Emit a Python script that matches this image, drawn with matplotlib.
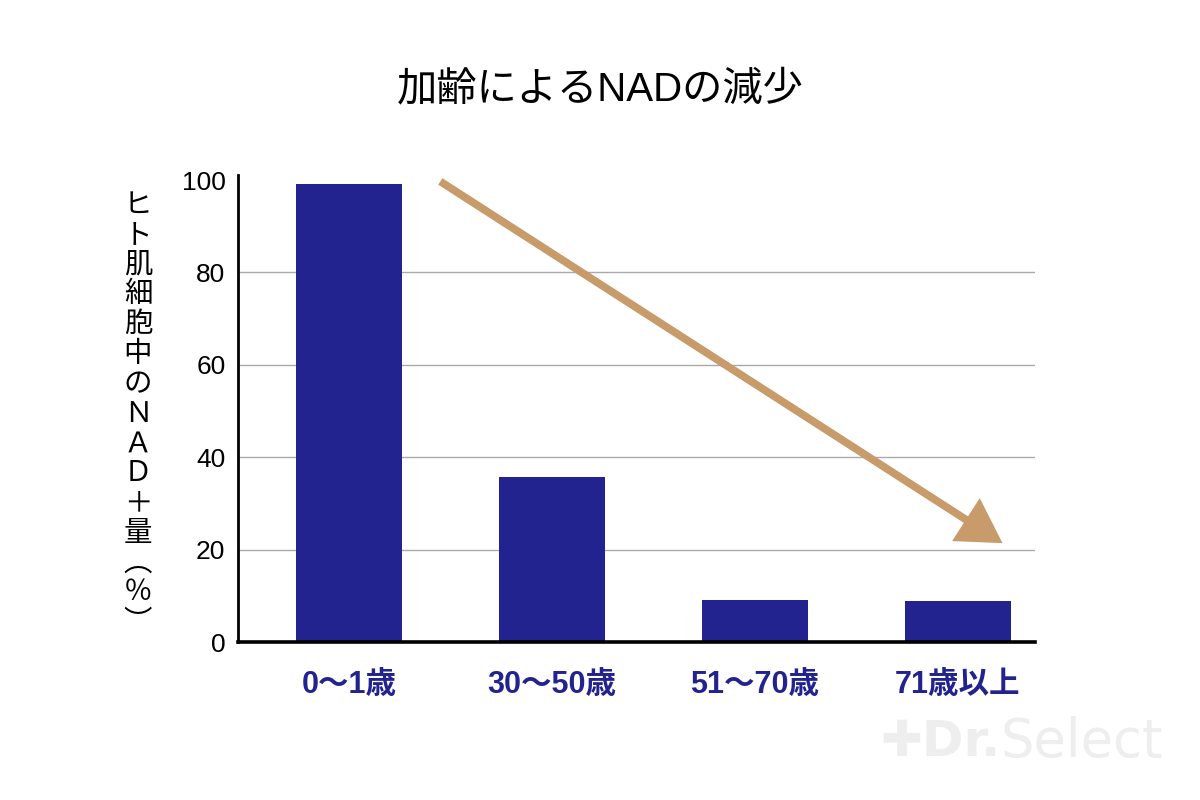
import matplotlib
matplotlib.use("Agg")
import matplotlib.pyplot as plt

plt.rcParams['font.family'] = ['Liberation Sans', 'Noto Sans CJK JP', 'DejaVu Sans']

# ---- data ----
categories = ["0〜1歳", "30〜50歳", "51〜70歳", "71歳以上"]
values = [99.2, 35.7, 9.1, 8.9]
yticks = [0, 20, 40, 60, 80, 100]
title = "加齢によるNADの減少"
ylabel_chars = ["ヒ", "ト", "肌", "細", "胞", "中", "の", "Ｎ", "Ａ", "Ｄ", "＋", "量", "︵", "％", "︶"]
trend_start = (0.45, 99.7)
trend_end = (3.22, 21.4)

bar_color = "#23238F"
arrow_color = "#C89B6B"

fig = plt.figure(figsize=(12, 8), dpi=100)
ax = fig.add_axes([0.1983, 0.1975, 0.8625 - 0.1983, 0.7807 - 0.1975])

x = list(range(len(categories)))
ax.bar(x, values, width=0.525, color=bar_color, zorder=3)

ax.set_xlim(-0.547, 3.38)
ax.set_ylim(0, 101)
ax.set_yticks(yticks)
ax.set_yticklabels([str(t) for t in yticks], fontsize=19)
ax.set_xticks(x)
ax.set_xticklabels(categories, fontsize=22, fontweight='bold', color=bar_color)
ax.tick_params(axis='y', length=0, pad=9)
ax.tick_params(axis='x', length=0, pad=20)

for g in [20, 40, 60, 80]:
    ax.axhline(g, color="#aaaaaa", lw=1.0, zorder=1)

for s in ['top', 'right']:
    ax.spines[s].set_visible(False)
ax.spines['left'].set_linewidth(2.0)
ax.spines['bottom'].set_linewidth(2.6)
ax.spines['left'].set_zorder(5)
ax.spines['bottom'].set_zorder(5)

ax.annotate('', xy=trend_end, xytext=trend_start,
            arrowprops=dict(arrowstyle='-|>,head_length=2.3,head_width=1.35',
                            lw=5.6, color=arrow_color, shrinkA=0, shrinkB=0,
                            mutation_scale=10, joinstyle='miter', capstyle='butt'),
            zorder=4)

fig.text(0.5, 1 - 89 / 800, title, ha='center', va='center', fontsize=29, color='black')

# vertical y label
top_px, step_px = 205, 29.8
for i, ch in enumerate(ylabel_chars):
    fig.text(138 / 1200, 1 - (top_px + i * step_px) / 800, ch, ha='center', va='center',
             fontsize=20.5, color='black', family=['Noto Sans CJK JP'])

# watermark
fig.text(1000 / 1200, 1 - 742 / 800, "✚Dr.", ha='right', va='center',
         fontsize=36, color='#eeeeee', fontweight='bold', family=['DejaVu Sans'])
fig.text(1000 / 1200, 1 - 742 / 800, "Select", ha='left', va='center',
         fontsize=38, color='#eeeeee', family=['DejaVu Sans'])

fig.savefig("out.png", dpi=100, facecolor='white')
